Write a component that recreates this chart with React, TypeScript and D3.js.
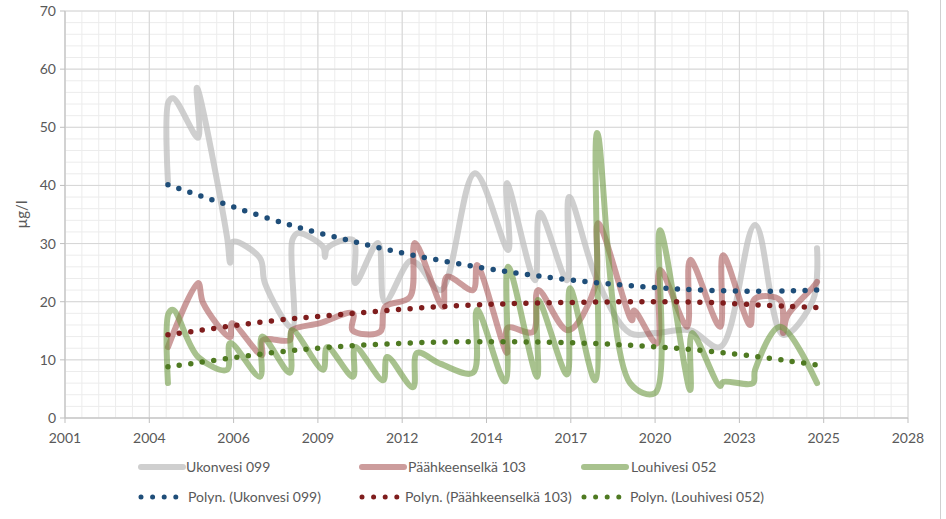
import React from "react";
import * as d3 from "d3";

// ---------- DATA (decimal year, µg/l) ----------
const seriesNames = ["Ukonvesi 099", "Päähkeenselkä 103", "Louhivesi 052"];

const ukonvesi: [number, number][] = [
  [2004.64, 40.6], [2004.66, 54.4], [2004.81, 55.0], [2005.62, 48.2], [2005.58, 56.8],
  [2006.56, 31.1], [2006.66, 26.7], [2006.75, 30.3], [2007.63, 27.5], [2007.79, 23.2],
  [2008.67, 15.5], [2008.68, 30.6], [2008.86, 31.8], [2009.68, 29.4], [2009.74, 27.7],
  [2009.81, 29.2], [2010.65, 30.6], [2010.72, 23.2], [2011.46, 30.1], [2011.69, 20.0],
  [2012.5, 27.0], [2012.75, 26.5], [2013.5, 22.0], [2014.61, 42.1], [2015.69, 28.9],
  [2015.65, 40.4], [2016.56, 23.7], [2016.72, 35.3], [2017.6, 23.7], [2017.67, 38.0],
  [2018.58, 23.7], [2019.65, 14.6], [2020.46, 14.6], [2021.6, 15.1], [2022.57, 12.2],
  [2023.71, 33.2], [2024.62, 14.3], [2025.59, 20.3], [2025.72, 29.2],
];

const paahkeenselka: [number, number][] = [
  [2004.64, 12.2], [2005.62, 23.2], [2005.78, 19.8], [2006.66, 13.9], [2006.72, 16.3],
  [2007.69, 10.8], [2007.72, 13.4], [2008.6, 13.4], [2008.67, 15.1], [2009.58, 16.3],
  [2010.65, 18.0], [2010.63, 15.1], [2011.53, 14.8], [2011.69, 19.1], [2012.5, 20.8],
  [2012.66, 30.1], [2013.57, 19.1], [2013.7, 24.3], [2014.55, 22.0], [2014.68, 26.3],
  [2015.65, 11.2], [2015.67, 15.5], [2016.5, 14.8], [2016.66, 22.0], [2017.63, 15.1],
  [2018.51, 22.5], [2018.61, 33.5], [2019.71, 16.8], [2019.78, 18.5], [2020.52, 12.8],
  [2020.62, 25.5], [2021.5, 15.7], [2021.6, 27.2], [2022.57, 15.7], [2022.67, 28.0],
  [2023.55, 16.0], [2023.7, 20.5], [2024.52, 20.3], [2024.62, 14.6], [2024.75, 17.5],
  [2025.59, 22.5], [2025.72, 23.4],
];

const louhivesi: [number, number][] = [
  [2004.64, 6.0], [2004.66, 18.0], [2004.81, 18.6], [2005.62, 10.5], [2006.56, 8.3],
  [2006.66, 12.9], [2007.63, 7.1], [2007.7, 14.0], [2008.6, 7.8], [2008.67, 15.1],
  [2009.68, 8.3], [2009.81, 12.2], [2010.65, 7.1], [2010.72, 12.2], [2011.63, 6.5],
  [2011.76, 10.5], [2012.6, 5.3], [2012.73, 11.2], [2013.5, 9.3], [2014.55, 7.8],
  [2014.68, 18.6], [2015.59, 6.3], [2015.69, 26.0], [2016.63, 7.1], [2016.66, 20.3],
  [2017.6, 7.5], [2017.7, 22.3], [2018.51, 6.5], [2018.58, 49.0], [2019.65, 6.0],
  [2020.46, 4.3], [2020.62, 32.3], [2021.6, 4.8], [2021.66, 14.6], [2022.57, 5.5],
  [2022.67, 6.2], [2023.64, 6.0], [2023.71, 8.3], [2024.52, 15.7], [2025.72, 6.0],
];

// polynomial trend lines
const trendUkonvesi: [number, number][] = [
  [2004.64, 40.1], [2006.6, 36.6], [2008.8, 32.9], [2010.7, 30.3], [2012.6, 28.0],
  [2014.9, 25.8], [2016.7, 24.4], [2018.5, 23.3], [2020.3, 22.5], [2022.0, 22.0],
  [2023.9, 21.8], [2025.72, 22.0],
];
const trendPaahkeenselka: [number, number][] = [
  [2004.64, 14.3], [2006.0, 15.3], [2008.0, 16.7], [2010.0, 17.7], [2012.0, 18.6],
  [2014.0, 19.3], [2016.0, 19.7], [2018.0, 19.9], [2020.0, 20.0], [2022.0, 19.9],
  [2024.0, 19.4], [2025.72, 19.0],
];
const trendLouhivesi: [number, number][] = [
  [2004.64, 8.8], [2006.0, 9.8], [2008.0, 11.2], [2010.0, 12.2], [2012.0, 12.8],
  [2014.0, 13.1], [2016.0, 13.1], [2018.0, 12.9], [2020.0, 12.4], [2022.0, 11.6],
  [2024.0, 10.4], [2025.72, 9.1],
];

const xTickLabels = ["2001", "2004", "2006", "2009", "2012", "2014", "2017", "2020", "2023", "2025", "2028"];
const yTicks = [0, 10, 20, 30, 40, 50, 60, 70];

// ---------- LAYOUT ----------
const W = 946, H = 519;
const L = 65, R = 908, T = 11, B = 418;
const DAY = 86400000;
const T0 = new Date(2001, 3, 19).getTime();

function yearToDate(y: number): Date {
  const yr = Math.floor(y);
  const s = new Date(yr, 0, 1).getTime();
  const e = new Date(yr + 1, 0, 1).getTime();
  return new Date(s + (y - yr) * (e - s));
}

const x = d3.scaleTime().domain([new Date(T0), new Date(T0 + 10000 * DAY)]).range([L, R]);
const y = d3.scaleLinear().domain([0, 70]).range([B, T]);

const smooth = d3.line<[number, number]>()
  .x((d) => x(yearToDate(d[0])))
  .y((d) => y(d[1]))
  .curve(d3.curveCatmullRom.alpha(0.5));
const trendLine = d3.line<[number, number]>()
  .x((d) => x(yearToDate(d[0])))
  .y((d) => y(d[1]))
  .curve(d3.curveNatural);

const FONT = "Lato, 'Open Sans', sans-serif";
const TXT = "#595959";

const lineStyles = [
  { data: ukonvesi, color: "#bdbdbd", op: 0.72 },
  { data: paahkeenselka, color: "#a34a4a", op: 0.55 },
  { data: louhivesi, color: "#6e9a43", op: 0.6 },
];
const trendStyles = [
  { data: trendUkonvesi, color: "#1f4e79" },
  { data: trendPaahkeenselka, color: "#7f1d1d" },
  { data: trendLouhivesi, color: "#4f7a22" },
];

export default function App() {
  const minorY = d3.range(0, 70.001, 2);
  const minorX = d3.range(0, 10001, 200).map((d) => x(new Date(T0 + d * DAY)));
  const majorX = d3.range(0, 11).map((i) => x(new Date(T0 + i * 1000 * DAY)));

  const legCols = [138, 359, 581];
  const leg1Text = [186, 408, 631];
  const leg2Text = [188, 405, 630];

  return (
    <svg width={W} height={H} style={{ position: "absolute", left: 0, top: 0, background: "#fff" }}>
      {/* minor grid */}
      {minorY.map((v) => (
        <line key={"my" + v} x1={L} x2={R} y1={y(v)} y2={y(v)} stroke="#ececec" strokeWidth={1} />
      ))}
      {minorX.map((px, i) => (
        <line key={"mx" + i} x1={px} x2={px} y1={T} y2={B} stroke="#ececec" strokeWidth={1} />
      ))}
      {/* major grid */}
      {yTicks.map((v) => (
        <line key={"gy" + v} x1={L} x2={R} y1={y(v)} y2={y(v)} stroke="#d6d6d6" strokeWidth={1} />
      ))}
      {majorX.map((px, i) => (
        <line key={"gx" + i} x1={px} x2={px} y1={T} y2={B} stroke="#d6d6d6" strokeWidth={1} />
      ))}
      {/* axes */}
      <line x1={L} x2={L} y1={T} y2={B} stroke="#bfbfbf" />
      <line x1={L} x2={R} y1={B} y2={B} stroke="#bfbfbf" />
      {yTicks.map((v) => (
        <line key={"ty" + v} x1={L - 5} x2={L} y1={y(v)} y2={y(v)} stroke="#bfbfbf" />
      ))}
      {majorX.map((px, i) => (
        <line key={"tx" + i} x1={px} x2={px} y1={B} y2={B + 5} stroke="#bfbfbf" />
      ))}
      {yTicks.map((v) => (
        <text key={"ly" + v} x={L - 9} y={y(v) + 5} textAnchor="end" fontSize={14} fill={TXT} fontFamily={FONT}>
          {v}
        </text>
      ))}
      {xTickLabels.map((t, i) => (
        <text key={"lx" + i} x={majorX[i]} y={443} textAnchor="middle" fontSize={14} fill={TXT} fontFamily={FONT}>
          {t}
        </text>
      ))}
      <text transform={`translate(27,${(T + B) / 2}) rotate(-90)`} textAnchor="middle" fontSize={15} fill={TXT} fontFamily={FONT}>
        µg/l
      </text>

      {/* series */}
      {lineStyles.map((s, i) => (
        <path key={"s" + i} d={smooth(s.data) || ""} fill="none" stroke={s.color} strokeOpacity={s.op}
          strokeWidth={6} strokeLinejoin="round" strokeLinecap="round" />
      ))}
      {/* trend lines */}
      {trendStyles.map((s, i) => (
        <path key={"t" + i} d={trendLine(s.data) || ""} fill="none" stroke={s.color}
          strokeWidth={5.5} strokeLinecap="round" strokeDasharray="0 11.6" />
      ))}

      {/* legend */}
      {lineStyles.map((s, i) => (
        <g key={"lg" + i}>
          <line x1={legCols[i] + 3} x2={legCols[i] + 45} y1={467} y2={467} stroke={s.color}
            strokeOpacity={s.op} strokeWidth={6} strokeLinecap="round" />
          <text x={leg1Text[i]} y={472} fontSize={14} fill={TXT} fontFamily={FONT}>
            {seriesNames[i]}
          </text>
        </g>
      ))}
      {trendStyles.map((s, i) => (
        <g key={"lt" + i}>
          <line x1={legCols[i] + 3} x2={legCols[i] + 40} y1={497} y2={497} stroke={s.color}
            strokeWidth={5} strokeLinecap="round" strokeDasharray="0 11.6" />
          <text x={leg2Text[i]} y={502} fontSize={14} fill={TXT} fontFamily={FONT}>
            {`Polyn. (${seriesNames[i]})`}
          </text>
        </g>
      ))}
      <line x1={940.5} x2={940.5} y1={0} y2={H} stroke="#d0d0d0" />
    </svg>
  );
}
